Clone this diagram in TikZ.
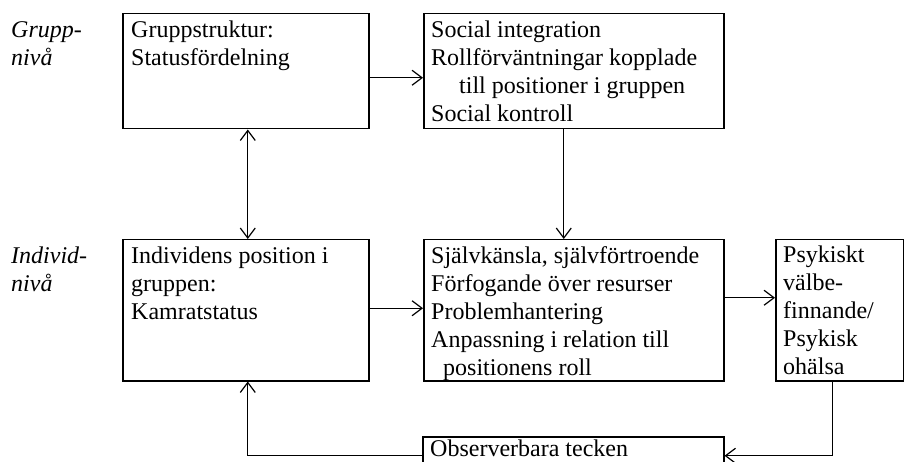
\documentclass[tikz,border=0pt]{standalone}
\usepackage{fontspec}
\setmainfont{Liberation Serif}
\usetikzlibrary{arrows.meta}
\begin{document}
\begin{tikzpicture}[x=1pt,y=-1pt,
  >={Straight Barb[length=10pt,width=15pt,line width=1.2pt]},
  box/.style={draw, line width=1.5pt, inner sep=0pt, anchor=north west},
  txt/.style={anchor=north west, inner sep=0pt, align=left, font=\fontsize{24}{28}\selectfont},
  lbl/.style={anchor=north west, inner sep=0pt, align=left, font=\fontsize{24}{28}\selectfont\itshape},
  conn/.style={line width=1.4pt, ->},
  bconn/.style={line width=1.4pt, <->}]
\useasboundingbox (0,0) rectangle (904,462);
\clip (0,0) rectangle (904,462);
\fill[white] (0,0) rectangle (904,462);

% boxes
\node[box, minimum width=246pt, minimum height=115pt] (A) at (122,13) {};
\node[box, minimum width=300pt, minimum height=115pt] (B) at (423,13) {};
\node[box, minimum width=246pt, minimum height=141pt] (C) at (122,239) {};
\node[box, minimum width=300pt, minimum height=141pt] (D) at (423,239) {};
\node[box, minimum width=128pt, minimum height=141pt] (E) at (775,239) {};
\node[box, minimum width=301pt, minimum height=38pt] (F) at (422,436) {};

% texts
\node[lbl] (lg) at (11,17.4) {\strut Grupp-\\nivå};
\node[lbl] (li) at (11,243.4) {\strut Individ-\\nivå};
\node[txt] (tA) at (131,17.4) {\strut Gruppstruktur:\\Statusfördelning};
\node[txt] (tB) at (431,17.4) {\strut Social integration\\Rollförväntningar kopplade\\\hspace*{28pt}till positioner i gruppen\\Social kontroll};
\node[txt] (tC) at (131,243.4) {\strut Individens position i\\gruppen:\\Kamratstatus};
\node[txt] (tD) at (431,243.4) {\strut Självkänsla, självförtroende\\Förfogande över resurser\\Problemhantering\\Anpassning i relation till\\\hspace*{12pt}positionens roll};
\node[txt] (tE) at (783,242.4) {\strut Psykiskt\\välbe-\\finnande/\\Psykisk\\ohälsa};
\node[anchor=base west, inner sep=0pt, font=\fontsize{24}{28}\selectfont] (tF) at (430,456) {Observerbara tecken};

% connectors
\draw[conn] ([yshift=-6.5pt]A.east) -- ([yshift=-6.5pt]B.west);
\draw[bconn] ([xshift=2pt]A.south) -- ([xshift=2pt]C.north);
\draw[conn] ([xshift=-10pt]B.south) -- ([xshift=-10pt]D.north);
\draw[conn] ([yshift=2pt]C.east) -- ([yshift=2pt]D.west);
\draw[conn] ([yshift=12.5pt]D.east) -- ([yshift=12.5pt]E.west);
\draw[conn] ([xshift=-7pt]E.south) |- (F.east);
\draw[conn] (F.west) -| ([xshift=2pt]C.south);
\end{tikzpicture}
\end{document}
